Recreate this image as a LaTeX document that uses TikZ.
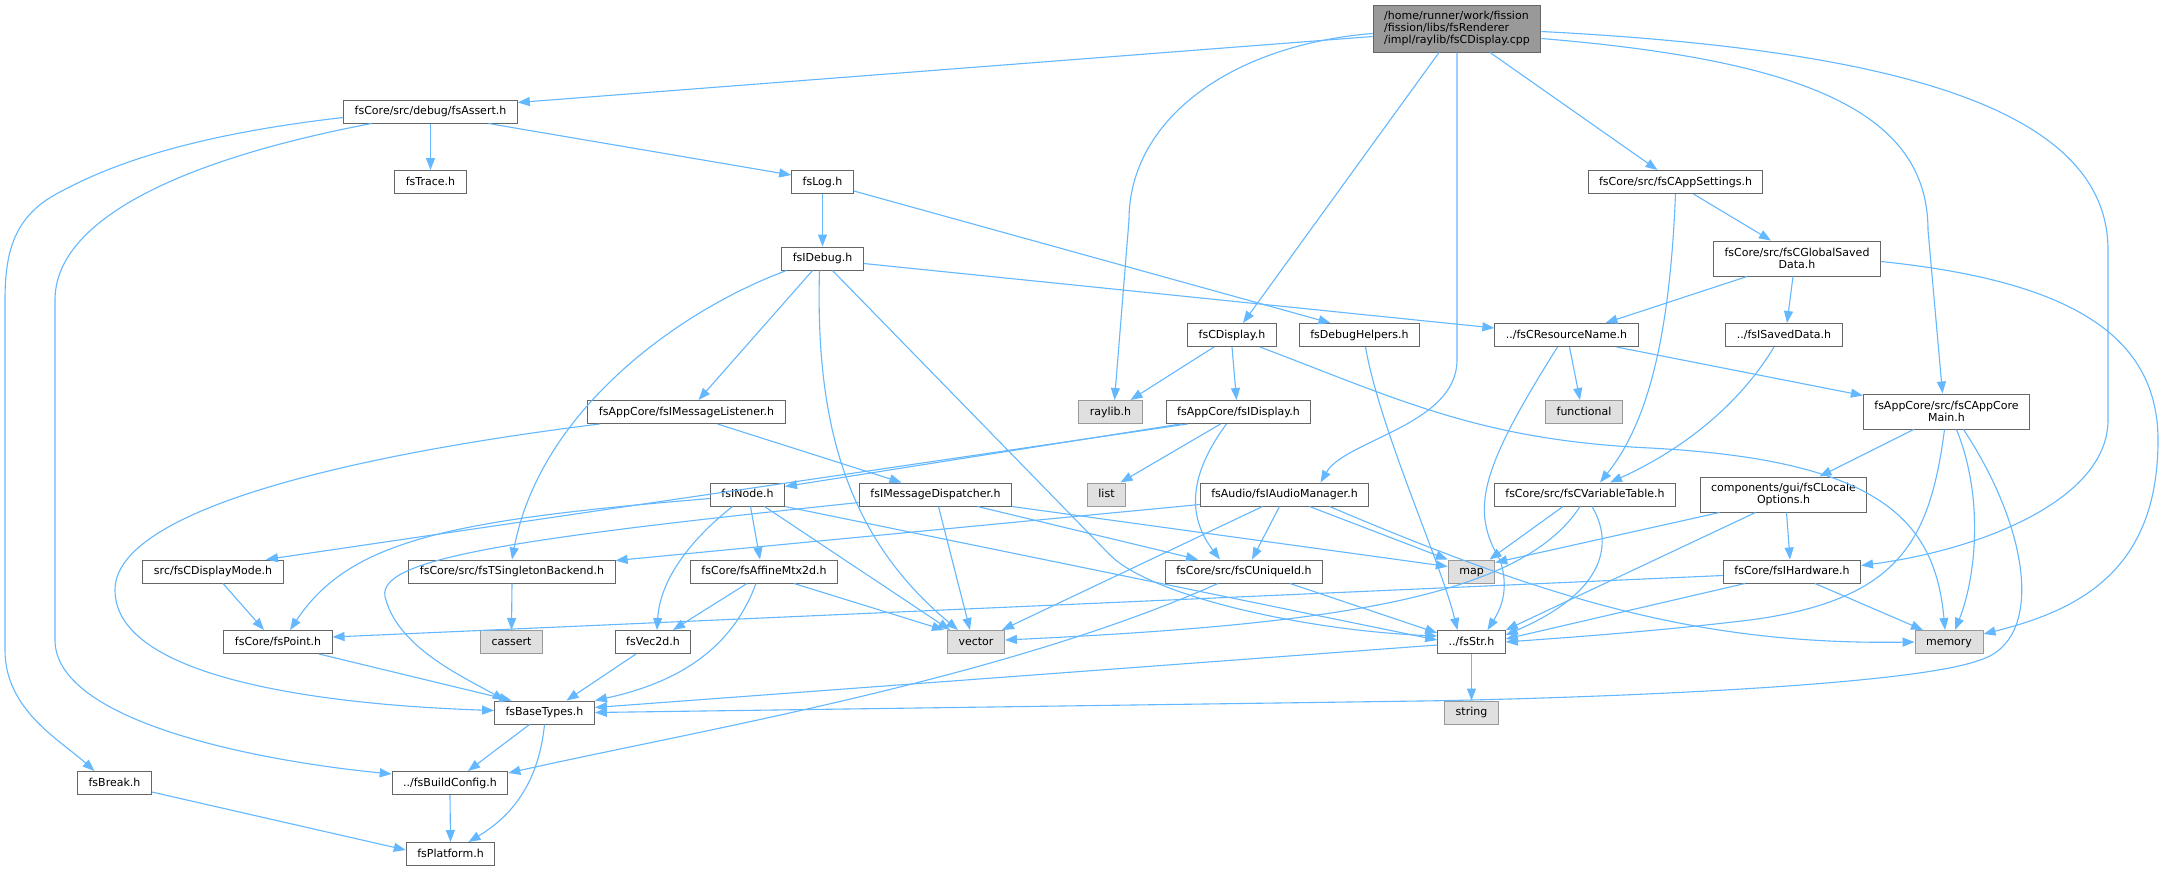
\documentclass[tikz,border=0pt]{standalone}
\usepackage{fontspec}
\setmainfont{DejaVu Sans}
\usepackage{xcolor}
\usepackage{tikz}
\usetikzlibrary{arrows.meta}

\definecolor{edgeblue}{HTML}{63B8FF}
\definecolor{boxgray}{HTML}{666666}
\definecolor{extborder}{HTML}{999999}
\definecolor{extfill}{HTML}{E0E0E0}
\definecolor{rootfill}{HTML}{999999}

\begin{document}
\begin{tikzpicture}[x=1pt,y=-1pt,
  box/.style={draw=boxgray, fill=white, line width=1pt, inner xsep=11pt, inner ysep=0pt,
    font=\fontsize{11}{12}\selectfont},
  hdr/.style={box, minimum height=23pt, text height=8.5pt, text depth=2.5pt},
  hdrtwo/.style={box, align=center, minimum height=35pt},
  sysinc/.style={hdr, draw=extborder, fill=extfill},
  rootfile/.style={box, fill=rootfill, align=left, minimum height=47pt},
  dep/.style={draw=edgeblue, line width=1.1pt, -{Triangle[length=12pt,width=9pt]}, fill=none}]

\useasboundingbox (0,0) rectangle (2164,871);
\fill[white] (0,0) rectangle (2164,871);

% the file itself
\node[rootfile] (root) at (1457,28.5) {/home/runner/work/fission\\/fission/libs/fsRenderer\\/impl/raylib/fsCDisplay.cpp};

% headers, row by row
\node[hdr] (assert) at (430.5,111.5) {fsCore/src/debug/fsAssert.h};
\node[hdr] (trace) at (430.5,182) {fsTrace.h};
\node[hdr] (log) at (822.5,182) {fsLog.h};
\node[hdr] (appsettings) at (1675.5,182) {fsCore/src/fsCAppSettings.h};
\node[hdr] (idebug) at (822.5,258.5) {fsIDebug.h};
\node[hdrtwo] (globalsaved) at (1797,258.5) {fsCore/src/fsCGlobalSaved\\Data.h};
\node[hdr] (cdisplayh) at (1232,335) {fsCDisplay.h};
\node[hdr] (debughelpers) at (1359.5,335) {fsDebugHelpers.h};
\node[hdr] (resname) at (1566.5,335) {../fsCResourceName.h};
\node[hdr] (saveddata) at (1784,335) {../fsISavedData.h};
\node[hdr] (msglistener) at (686.5,412) {fsAppCore/fsIMessageListener.h};
\node[sysinc] (raylib) at (1110.5,412) {raylib.h};
\node[hdr] (idisplay) at (1238.5,412) {fsAppCore/fsIDisplay.h};
\node[sysinc] (functional) at (1584,412) {functional};
\node[hdrtwo] (appcoremain) at (1946.5,411.5) {fsAppCore/src/fsCAppCore\\Main.h};
\node[hdr] (inode) at (747.5,494.5) {fsINode.h};
\node[hdr] (msgdispatcher) at (935.5,494.5) {fsIMessageDispatcher.h};
\node[sysinc] (stdlist) at (1106.5,494.5) {list};
\node[hdr] (audiomgr) at (1284.5,494.5) {fsAudio/fsIAudioManager.h};
\node[hdr] (vartable) at (1585,494.5) {fsCore/src/fsCVariableTable.h};
\node[hdrtwo] (localeopts) at (1783.5,494.5) {components/gui/fsCLocale\\Options.h};
\node[hdr] (displaymode) at (213,571.5) {src/fsCDisplayMode.h};
\node[hdr] (singleton) at (512,571.5) {fsCore/src/fsTSingletonBackend.h};
\node[hdr] (affine) at (764,571.5) {fsCore/fsAffineMtx2d.h};
\node[hdr] (uniqueid) at (1244,571.5) {fsCore/src/fsCUniqueId.h};
\node[sysinc] (stdmap) at (1471.5,571.5) {map};
\node[hdr] (hardware) at (1792,571.5) {fsCore/fsIHardware.h};
\node[hdr] (point) at (278,642) {fsCore/fsPoint.h};
\node[sysinc] (cassert) at (511.5,642) {cassert};
\node[hdr] (vecd) at (653,642) {fsVec2d.h};
\node[sysinc] (stdvector) at (976,642) {vector};
\node[hdr] (str) at (1471.5,642) {../fsStr.h};
\node[sysinc] (stdmemory) at (1949,642) {memory};
\node[hdr] (basetypes) at (544.5,712.5) {fsBaseTypes.h};
\node[sysinc] (stdstring) at (1471.5,712.5) {string};
\node[hdr] (brk) at (114.5,783) {fsBreak.h};
\node[hdr] (buildconfig) at (450,783) {../fsBuildConfig.h};
\node[hdr] (platform) at (450.5,854) {fsPlatform.h};

% includes of the .cpp
\draw[dep] ([yshift=-8pt]root.west) -- ([yshift=9pt]assert.east);
\draw[dep] ([yshift=-5pt]root.west) .. controls (1230,45) and (1129,120) .. (1129,220) -- ([xshift=4pt]raylib.north);
\draw[dep] ([xshift=-18pt]root.south) -- ([xshift=11pt]cdisplayh.north);
\draw[dep] (root.south) -- (1457,360) .. controls (1457,425) and (1345,440) .. ([xshift=36pt]audiomgr.north);
\draw[dep] ([xshift=33pt]root.south) -- ([xshift=-18pt]appsettings.north);
\draw[dep] ([yshift=-10pt]root.east) .. controls (1800,60) and (1928,110) .. (1928,230) -- ([xshift=-4pt]appcoremain.north);
\draw[dep] ([yshift=-3pt]root.east) .. controls (1900,50) and (2108,110) .. (2108,250) -- (2108,420) .. controls (2108,500) and (1980,550) .. ([yshift=6pt]hardware.east);

% fsAssert.h
\draw[dep] (assert.south) -- (trace.north);
\draw[dep] ([xshift=58pt]assert.south) -- ([yshift=7pt]log.west);
\draw[dep] ([yshift=-6pt]assert.west) .. controls (190,135) and (110,165) .. (60,192) .. controls (15,215) and (5,250) .. (5,300) -- (5,650) .. controls (5,710) and (60,740) .. ([xshift=-20pt]brk.north);
\draw[dep] ([xshift=-59pt]assert.south) .. controls (180,160) and (55,220) .. (55,300) -- (55,640) .. controls (55,720) and (250,760) .. ([yshift=9pt]buildconfig.west);

% fsLog.h and fsIDebug.h
\draw[dep] (log.south) -- (idebug.north);
\draw[dep] ([yshift=-9pt]log.east) -- ([xshift=-29pt]debughelpers.north);
\draw[dep] ([yshift=-5pt]idebug.east) -- ([yshift=7pt]resname.west);
\draw[dep] ([xshift=-10pt]idebug.south) -- ([xshift=12pt]msglistener.north);
\draw[dep] ([xshift=-36pt]idebug.south) .. controls (680,310) and (540,410) .. (singleton.north);
\draw[dep] ([xshift=-3pt]idebug.south) .. controls (815,430) and (850,540) .. ([xshift=-18pt]stdvector.north);
\draw[dep] ([xshift=10pt]idebug.south) -- (1110,555) .. controls (1150,595) and (1300,630) .. ([yshift=6pt]str.west);

% message listener / display
\draw[dep] ([xshift=31pt]msglistener.south) -- ([xshift=-34pt]msgdispatcher.north);
\draw[dep] ([xshift=-87pt]msglistener.south) .. controls (350,455) and (115,510) .. (115,590) .. controls (115,680) and (330,705) .. ([yshift=2pt]basetypes.west);
\draw[dep] ([xshift=-18pt]cdisplayh.south) -- ([xshift=20pt]raylib.north);
\draw[dep] (cdisplayh.south) -- ([xshift=-2pt]idisplay.north);
\draw[dep] ([xshift=28pt]cdisplayh.south) .. controls (1400,400) and (1480,440) .. (1650,448) .. controls (1880,460) and (1935,520) .. ([xshift=-4pt]stdmemory.north);
\draw[dep] ([xshift=6pt]debughelpers.south) .. controls (1380,430) and (1440,560) .. ([xshift=-14pt]str.north);

% resource name, saved data, settings
\draw[dep] ([xshift=3pt]resname.south) -- ([xshift=-4pt]functional.north);
\draw[dep] ([xshift=50pt]resname.south) -- ([yshift=16pt]appcoremain.west);
\draw[dep] ([xshift=-9pt]resname.south) .. controls (1480,470) and (1470,510) .. (1500,560) .. controls (1510,590) and (1500,610) .. ([xshift=16pt]str.north);
\draw[dep] ([xshift=-10pt]saveddata.south) .. controls (1730,420) and (1660,460) .. ([xshift=25pt]vartable.north);
\draw[dep] ([xshift=18pt]appsettings.south) -- ([xshift=-26pt]globalsaved.north);
\draw[dep] (appsettings.south) .. controls (1670,330) and (1650,420) .. ([xshift=15pt]vartable.north);
\draw[dep] ([xshift=-50pt]globalsaved.south) -- ([xshift=39pt]resname.north);
\draw[dep] ([xshift=-4pt]globalsaved.south) -- ([xshift=3pt]saveddata.north);
\draw[dep] ([yshift=-3pt]globalsaved.east) .. controls (2060,280) and (2158,330) .. (2158,440) .. controls (2158,570) and (2080,610) .. ([yshift=8pt]stdmemory.east);

% fsIDisplay.h
\draw[dep] ([xshift=-51pt]idisplay.south) -- ([xshift=53pt]displaymode.north);
\draw[dep] ([xshift=-58pt]idisplay.south) -- ([yshift=8pt]inode.east);
\draw[dep] ([xshift=-18pt]idisplay.south) -- ([xshift=14pt]stdlist.north);
\draw[dep] ([xshift=-12pt]idisplay.south) .. controls (1185,480) and (1190,520) .. ([xshift=-24pt]uniqueid.north);

% fsINode.h
\draw[dep] ([yshift=-4pt]inode.west) .. controls (450,520) and (350,540) .. ([xshift=12pt]point.north);
\draw[dep] ([xshift=-15pt]inode.south) .. controls (690,540) and (660,580) .. ([xshift=4pt]vecd.north);
\draw[dep] ([xshift=3pt]inode.south) -- ([xshift=-4pt]affine.north);
\draw[dep] ([xshift=17pt]inode.south) -- ([xshift=-26pt]stdvector.north);
\draw[dep] (inode.south east) -- ([yshift=2pt]str.west);

% fsIMessageDispatcher.h
\draw[dep] ([xshift=3pt]msgdispatcher.south) -- ([xshift=-6pt]stdvector.north);
\draw[dep] ([xshift=42pt]msgdispatcher.south) -- ([xshift=-46pt]uniqueid.north);
\draw[dep] (msgdispatcher.south east) -- ([yshift=5pt]stdmap.west);
\draw[dep] ([yshift=-8pt]msgdispatcher.west) .. controls (500,540) and (370,560) .. (386,600) .. controls (400,650) and (470,680) .. ([xshift=-40pt]basetypes.north);

% fsIAudioManager.h
\draw[dep] ([yshift=-10pt]audiomgr.west) -- ([yshift=11pt]singleton.east);
\draw[dep] ([xshift=-22pt]audiomgr.south) -- ([xshift=-3pt]stdvector.north east);
\draw[dep] ([xshift=-5pt]audiomgr.south) -- ([xshift=8pt]uniqueid.north);
\draw[dep] ([xshift=25pt]audiomgr.south) -- (stdmap.north west);
\draw[dep] ([xshift=45pt]audiomgr.south) .. controls (1550,600) and (1700,645) .. (stdmemory.west);

% fsCVariableTable.h and fsCLocaleOptions.h
\draw[dep] ([xshift=-22pt]vartable.south) -- ([xshift=18pt]stdmap.north);
\draw[dep] ([xshift=7pt]vartable.south) .. controls (1612,540) and (1610,590) .. ([yshift=7pt]str.east);
\draw[dep] ([xshift=-5pt]vartable.south) .. controls (1520,600) and (1320,625) .. ([yshift=2pt]stdvector.east);
\draw[dep] ([xshift=-64pt]localeopts.south) -- ([yshift=9pt]stdmap.east);
\draw[dep] ([xshift=-28pt]localeopts.south) -- (str.north east);
\draw[dep] ([xshift=3pt]localeopts.south) -- ([xshift=-2pt]hardware.north);

% fsCAppCoreMain.h
\draw[dep] ([xshift=-33pt]appcoremain.south) -- ([xshift=36pt]localeopts.north);
\draw[dep] ([xshift=-2pt]appcoremain.south) .. controls (1930,540) and (1900,600) .. (1750,620) .. controls (1650,632) and (1560,638) .. (str.east);
\draw[dep] ([xshift=10pt]appcoremain.south) .. controls (1985,500) and (1975,580) .. ([xshift=6pt]stdmemory.north);
\draw[dep] ([xshift=17pt]appcoremain.south) .. controls (2030,530) and (2045,640) .. (1980,660) .. controls (1900,690) and (1500,700) .. (1420,701) -- (basetypes.east);

% fsIHardware.h and fsCUniqueId.h
\draw[dep] ([yshift=-4pt]hardware.west) -- ([yshift=5pt]point.east);
\draw[dep] ([xshift=-47pt]hardware.south) -- ([yshift=3pt]str.east);
\draw[dep] ([xshift=23pt]hardware.south) -- ([xshift=-26pt]stdmemory.north);
\draw[dep] ([xshift=-26pt]uniqueid.south) .. controls (1000,680) and (700,730) .. ([yshift=-2pt]buildconfig.north east);
\draw[dep] ([xshift=46pt]uniqueid.south) -- ([yshift=9pt]str.west);

% lower part
\draw[dep] (singleton.south) -- (cassert.north);
\draw[dep] ([xshift=10pt]displaymode.south) -- ([xshift=-14pt]point.north);
\draw[dep] ([xshift=-17pt]affine.south) -- ([xshift=20pt]vecd.north);
\draw[dep] ([xshift=30pt]affine.south) -- ([xshift=-32pt]stdvector.north);
\draw[dep] ([xshift=-8pt]affine.south) .. controls (735,640) and (690,680) .. (basetypes.north east);
\draw[dep] ([xshift=-17pt]vecd.south) -- ([xshift=22pt]basetypes.north);
\draw[dep] ([xshift=41pt]point.south) -- ([xshift=-33pt]basetypes.north);
\draw[dep] ([xshift=-15pt]basetypes.south) -- ([xshift=18pt]buildconfig.north);
\draw[dep] (basetypes.south) .. controls (538,790) and (505,820) .. ([xshift=18pt]platform.north);
\draw[dep] (buildconfig.south) -- (platform.north);
\draw[dep] ([yshift=-9pt]brk.east) -- ([yshift=4pt]platform.west);
\draw[dep] (str.south) -- (stdstring.north);
\draw[dep] ([yshift=-3pt]str.west) -- ([yshift=5pt]basetypes.east);

\end{tikzpicture}
\end{document}
